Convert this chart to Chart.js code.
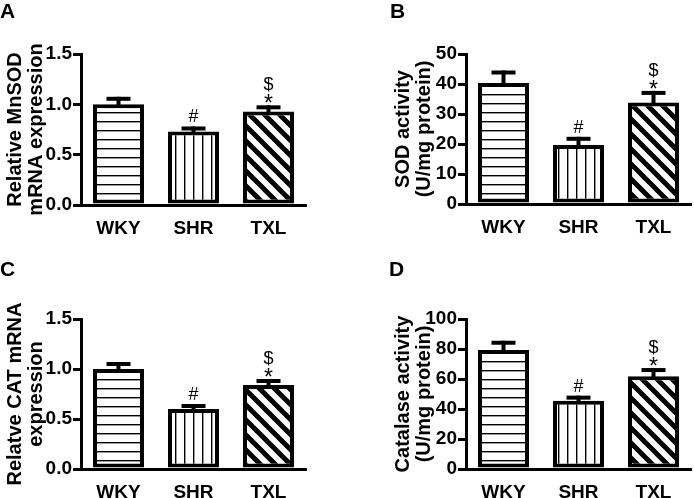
<!DOCTYPE html>
<html><head><meta charset="utf-8">
<script src="https://cdn.jsdelivr.net/npm/chart.js@4.4.1/dist/chart.umd.min.js"></script>
<style>
html,body{margin:0;padding:0;background:#fff;overflow:hidden;width:694px;height:498px;}
#wrap{position:relative;width:694px;height:498px;overflow:hidden;background:#fff;}
canvas{position:absolute;}
</style></head><body><div id="wrap">
<canvas id="cA" width="347" height="260" style="left:0px;top:0px;width:347px;height:260px"></canvas>
<canvas id="cB" width="347" height="260" style="left:347px;top:0px;width:347px;height:260px"></canvas>
<canvas id="cC" width="347" height="260" style="left:0px;top:249px;width:347px;height:260px"></canvas>
<canvas id="cD" width="347" height="260" style="left:347px;top:249px;width:347px;height:260px"></canvas>
</div>
<script>
// ---- data ----
const categories = ['WKY', 'SHR', 'TXL'];

const mnsodMean = [1.00, 0.73, 0.93];
const mnsodErr  = [0.075, 0.05, 0.06];
const mnsodTicks = [0, 0.5, 1.0, 1.5];

const sodMean = [40.3, 19.7, 33.8];
const sodErr  = [4.2, 2.7, 3.9];
const sodTicks = [0, 10, 20, 30, 40, 50];

const catMean = [1.00, 0.60, 0.84];
const catErr  = [0.07, 0.05, 0.06];
const catTicks = [0, 0.5, 1.0, 1.5];

const catalaseMean = [79.3, 45.5, 61.8];
const catalaseErr  = [6.2, 3.4, 5.5];
const catalaseTicks = [0, 20, 40, 60, 80, 100];

const sigMarks = [[], ['#'], ['*', '$']];

// ---- styling helpers ----
const F = '"Liberation Sans", Arial, Helvetica, sans-serif';

function makePattern(type) {
  const c = document.createElement('canvas');
  const g = c.getContext('2d');
  if (type === 'h') {
    c.width = 9; c.height = 9;
    g.fillStyle = '#fff'; g.fillRect(0, 0, 9, 9);
    g.fillStyle = '#000'; g.fillRect(0, 4, 9, 1.4);
  } else if (type === 'v') {
    c.width = 9; c.height = 9;
    g.fillStyle = '#fff'; g.fillRect(0, 0, 9, 9);
    g.fillStyle = '#000'; g.fillRect(4, 0, 1.4, 9);
  } else {
    const s = 15;
    c.width = s; c.height = s;
    g.fillStyle = '#fff'; g.fillRect(0, 0, s, s);
    g.strokeStyle = '#000'; g.lineWidth = 5;
    for (let k = -1; k <= 1; k++) {
      g.beginPath(); g.moveTo(k * s - 2, -2); g.lineTo(k * s + s + 2, s + 2); g.stroke();
    }
  }
  return g.createPattern(c, 'repeat');
}

const errorPlugin = {
  id: 'errbars',
  afterDatasetsDraw(chart) {
    const ctx = chart.ctx;
    const ds = chart.data.datasets[0];
    const meta = chart.getDatasetMeta(0);
    const y = chart.scales.y;
    ctx.save();
    ctx.fillStyle = '#000';
    meta.data.forEach((bar, i) => {
      const yTop = y.getPixelForValue(ds.data[i] + ds.errors[i]);
      ctx.fillRect(bar.x - 2, yTop, 4, bar.y - yTop + 2);
      ctx.fillRect(bar.x - 12, yTop, 24, 4);
      const marks = ds.marks[i];
      ctx.textAlign = 'center';
      ctx.textBaseline = 'alphabetic';
      marks.forEach(m => {
        let base;
        if (m === '#') { ctx.font = '18px ' + F; base = yTop - 4; }
        else if (m === '*') { ctx.font = '23px ' + F; base = yTop + 6; }
        else { ctx.font = '18px ' + F; base = yTop - 15; }
        ctx.fillText(m, bar.x, base);
      });
    });
    ctx.restore();
  }
};

const letterPlugin = {
  id: 'letter',
  afterDraw(chart, args, opts) {
    const ctx = chart.ctx;
    ctx.save();
    ctx.fillStyle = '#000';
    ctx.font = 'bold 21px ' + F;
    ctx.textAlign = 'left';
    ctx.textBaseline = 'alphabetic';
    ctx.fillText(opts.text, opts.x, opts.y);
    ctx.restore();
  }
};

const pats = [makePattern('h'), makePattern('v'), makePattern('d')];

function makePanel(id, cfg) {
  new Chart(document.getElementById(id), {
    type: 'bar',
    data: {
      labels: categories,
      datasets: [{
        data: cfg.mean,
        errors: cfg.err,
        marks: sigMarks,
        backgroundColor: pats,
        borderColor: '#000',
        borderWidth: 4,
        borderSkipped: false,
        barPercentage: 0.68,
        categoryPercentage: 1
      }]
    },
    options: {
      responsive: false,
      animation: false,
      devicePixelRatio: 1,
      layout: { padding: { left: 0, right: cfg.padRight, top: cfg.padTop, bottom: 0 } },
      plugins: {
        legend: { display: false },
        tooltip: { enabled: false },
        letter: { text: cfg.letter, x: cfg.lx, y: cfg.ly }
      },
      scales: {
        x: {
          grid: { display: false },
          border: { display: true, color: '#000', width: 3, z: 1 },
          ticks: { color: '#000', font: { size: 19, weight: 'bold', family: F }, padding: 4 },
          afterFit: s => { s.height = cfg.xH; }
        },
        y: {
          min: 0,
          max: cfg.ticks[cfg.ticks.length - 1],
          afterBuildTicks: s => { s.ticks = cfg.ticks.map(v => ({ value: v })); },
          grid: { drawOnChartArea: false, drawTicks: true, tickLength: 8, tickWidth: 3, tickColor: '#000', color: '#000', lineWidth: 3 },
          border: { display: true, color: '#000', width: 3, z: 1 },
          ticks: { color: '#000', font: { size: 19, weight: 'bold', family: F }, padding: 1,
                   callback: v => v.toFixed(cfg.dec) },
          title: { display: true, text: cfg.title, color: '#000',
                   font: { size: 20, weight: 'bold', family: F, lineHeight: 1.05 },
                   padding: { top: cfg.titlePad, bottom: 0 } },
          afterFit: s => { s.width = cfg.yW; }
        }
      }
    },
    plugins: [errorPlugin, letterPlugin]
  });
}

makePanel('cA', { mean: mnsodMean, err: mnsodErr, ticks: mnsodTicks, dec: 1,
  title: ['Relative MnSOD', 'mRNA expression'], letter: 'A', lx: 0, ly: 18,
  padTop: 54, xH: 55, yW: 81, padRight: 41, titlePad: 4.5 });
makePanel('cB', { mean: sodMean, err: sodErr, ticks: sodTicks, dec: 0,
  title: ['SOD activity', '(U/mg protein)'], letter: 'B', lx: 43, ly: 18,
  padTop: 54, xH: 56, yW: 119, padRight: 3, titlePad: 45.5 });
makePanel('cC', { mean: catMean, err: catErr, ticks: catTicks, dec: 1,
  title: ['Relatve CAT mRNA', 'expression'], letter: 'C', lx: 0, ly: 27,
  padTop: 70, xH: 40, yW: 81, padRight: 41, titlePad: 4.5 });
makePanel('cD', { mean: catalaseMean, err: catalaseErr, ticks: catalaseTicks, dec: 0,
  title: ['Catalase activity', '(U/mg protein)'], letter: 'D', lx: 42, ly: 27,
  padTop: 70, xH: 40, yW: 119, padRight: 3, titlePad: 45.5 });
</script>
</body></html>
